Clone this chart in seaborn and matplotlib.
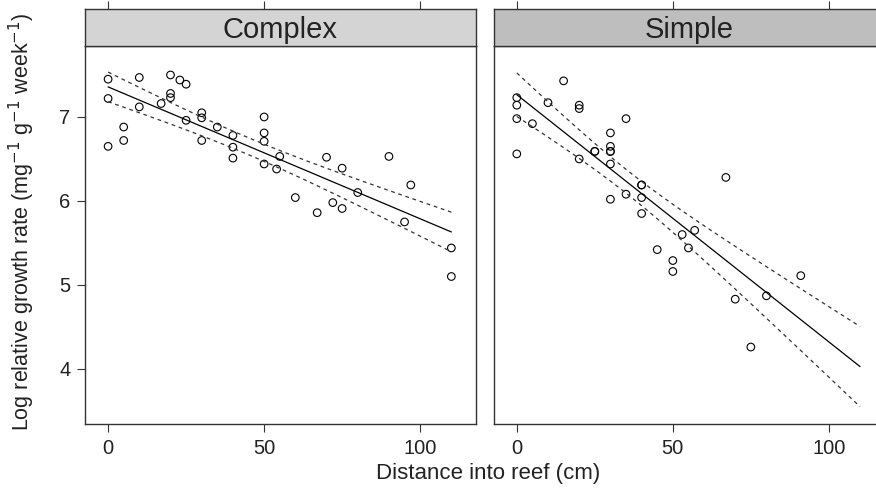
import numpy as np
import pandas as pd
import matplotlib
matplotlib.use("Agg")
import matplotlib.pyplot as plt
import seaborn as sns

# values
complex_x = [0, 0, 0, 5, 5, 10, 10, 17, 20, 20, 20, 23, 25, 25, 30, 30, 30, 35, 40, 40,
             40, 50, 50, 50, 50, 54, 55, 60, 67, 70, 72, 75, 75, 80, 90, 95, 97, 110, 110]
complex_y = [7.45, 7.22, 6.65, 6.88, 6.72, 7.47, 7.12, 7.16, 7.50, 7.28, 7.23, 7.44, 7.39,
             6.96, 7.05, 6.99, 6.72, 6.88, 6.78, 6.64, 6.51, 7.00, 6.81, 6.71, 6.44, 6.38,
             6.53, 6.04, 5.86, 6.52, 5.98, 6.39, 5.91, 6.10, 6.53, 5.75, 6.19, 5.44, 5.10]

simple_x = [0, 0, 0, 0, 5, 10, 15, 20, 20, 20, 25, 25, 30, 30, 30, 30, 30, 30, 35, 35,
            40, 40, 40, 40, 45, 50, 50, 53, 55, 57, 67, 70, 75, 80, 91]
simple_y = [7.23, 7.14, 6.98, 6.56, 6.92, 7.17, 7.43, 7.14, 7.10, 6.50, 6.59, 6.59, 6.81,
            6.65, 6.59, 6.59, 6.44, 6.02, 6.98, 6.08, 6.19, 6.19, 6.04, 5.85, 5.42, 5.29,
            5.16, 5.60, 5.44, 5.65, 6.28, 4.83, 4.26, 4.87, 5.11]

panels = ["Complex", "Simple"]
strip_colors = ["#d4d4d4", "#bebebe"]
x_ticks = [0, 50, 100]
y_ticks = [4, 5, 6, 7]

data = pd.concat([
    pd.DataFrame({"x": complex_x, "y": complex_y, "reef": "Complex"}),
    pd.DataFrame({"x": simple_x, "y": simple_y, "reef": "Simple"}),
])


def fit_band(x, y, grid):
    # ordinary least squares with 95% confidence band for the mean
    x = np.asarray(x, float)
    y = np.asarray(y, float)
    n = len(x)
    b, a = np.polyfit(x, y, 1)
    resid = y - (a + b * x)
    s = np.sqrt(np.sum(resid ** 2) / (n - 2))
    sxx = np.sum((x - x.mean()) ** 2)
    se = s * np.sqrt(1 / n + (grid - x.mean()) ** 2 / sxx)
    t = 2.03
    fit = a + b * grid
    return fit, fit - t * se, fit + t * se


sns.set_theme(style="white")
plt.rcParams["font.family"] = ["Liberation Sans", "DejaVu Sans"]
ink = "#222222"

fig = plt.figure(figsize=(8.76, 4.91), dpi=100)
lefts = [85 / 876, 493.7 / 876]
width = 390.7 / 876
bottom = 66.7 / 491
height = 378.3 / 491
strip_h = 36.5 / 491

grid = np.linspace(0, 110, 100)

for i, name in enumerate(panels):
    ax = fig.add_axes([lefts[i], bottom, width, height])
    sub = data[data["reef"] == name]
    sns.scatterplot(x="x", y="y", data=sub, ax=ax, marker="o", s=30,
                    facecolor="none", edgecolor="black", linewidth=0.8, legend=False)
    fit, lo, hi = fit_band(sub["x"], sub["y"], grid)
    sns.lineplot(x=grid, y=fit, ax=ax, color="black", linewidth=0.9)
    sns.lineplot(x=grid, y=lo, ax=ax, color="#333333", linewidth=0.9, linestyle=(0, (3, 3)))
    sns.lineplot(x=grid, y=hi, ax=ax, color="#333333", linewidth=0.9, linestyle=(0, (3, 3)))

    ax.set_xlim(-7.4, 117.8)
    ax.set_ylim(3.34, 7.845)
    ax.set_xticks(x_ticks)
    ax.set_yticks(y_ticks)
    ax.set_xlabel("")
    ax.set_ylabel("")
    for sp in ax.spines.values():
        sp.set_color("#333333")
        sp.set_linewidth(1.0)
    ax.tick_params(axis="x", bottom=True, direction="out", length=5.5, width=0.8,
                   color="#333333", labelsize=14.5, labelcolor=ink, pad=5)
    if i == 0:
        ax.tick_params(axis="y", left=True, direction="out", length=5.5, width=0.8,
                       color="#333333", labelsize=14.5, labelcolor=ink, pad=5)
    else:
        ax.tick_params(axis="y", left=False, labelleft=False)

    strip = fig.add_axes([lefts[i], bottom + height, width, strip_h], sharex=ax)
    strip.set_facecolor(strip_colors[i])
    strip.set_yticks([])
    strip.tick_params(axis="x", top=True, bottom=False, labeltop=False, labelbottom=False,
                      direction="out", length=5.5, width=0.8, color="#333333")
    for sp in strip.spines.values():
        sp.set_color("#333333")
        sp.set_linewidth(1.0)
    strip.text(0.5, 0.45, name, transform=strip.transAxes, ha="center", va="center",
               fontsize=21, color=ink)

fig.text(488 / 876, 17 / 491, "Distance into reef (cm)", ha="center", va="center",
         fontsize=16, color=ink)
fig.text(22 / 876, 1 - 222 / 491,
         "Log relative growth rate (mg$^{-1}$ g$^{-1}$ week$^{-1}$)",
         ha="center", va="center", rotation=90, fontsize=15.5, color=ink)

plt.savefig("out.png", dpi=100)
